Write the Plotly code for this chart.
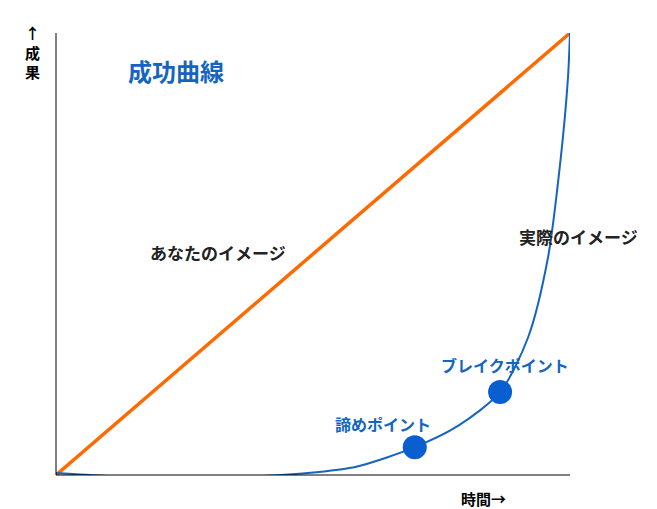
import plotly.graph_objects as go

img_x = [0, 100]
img_y = [0, 100]
real_x = [0, 10.1, 29.6, 49.0, 58.8, 69.8, 78.2, 86.4, 91.8, 95.7, 98.2, 99.6, 100]
real_y = [0.45, -0.2, -0.7, 0.45, 2.0, 6.3, 11.1, 18.8, 31.0, 49.1, 71.7, 89.8, 100]
pt_x = [69.8, 86.4]
pt_y = [6.3, 18.8]
pt_labels = ["諦めポイント", "ブレイクポイント"]

F = "Noto Sans CJK JP"
fig = go.Figure()
fig.add_trace(go.Scatter(x=img_x, y=img_y, mode="lines", line=dict(color="#FF6A00", width=3.5), cliponaxis=False))
fig.add_trace(go.Scatter(x=real_x, y=real_y, mode="lines", line=dict(color="#1565C0", width=2, shape="spline", smoothing=0.8), cliponaxis=False))
fig.add_trace(go.Scatter(x=pt_x, y=pt_y, mode="markers", marker=dict(color="#0A5FD0", size=24), cliponaxis=False))

fig.update_layout(
    width=657, height=509, margin=dict(l=48, r=95, t=25, b=42),
    plot_bgcolor="white", paper_bgcolor="white", showlegend=False,
    xaxis=dict(range=[0, 100], visible=False, fixedrange=True),
    yaxis=dict(range=[0, 100], visible=False, fixedrange=True),
    font=dict(family=F),
)
fig.add_shape(type="line", xref="paper", yref="paper", x0=0, x1=1, y0=0, y1=0, line=dict(color="black", width=1))
fig.add_shape(type="line", xref="paper", yref="paper", x0=0, x1=0, y0=0, y1=1.0, line=dict(color="black", width=1))

def ann(text, px, py, size, color):
    fig.add_annotation(text=f"<b>{text}</b>", x=(px - 48) / 514, y=(467 - py) / 442,
                       xref="paper", yref="paper", showarrow=False,
                       font=dict(size=size, color=color, family=F), xanchor="center", yanchor="middle")

ann("↑<br>成<br>果", 24, 44, 15, "black")
ann("時間→", 475, 490, 15, "black")
ann("成功曲線", 168, 62, 24, "#1565C0")
ann("あなたのイメージ", 210, 244, 17, "#222")
ann("実際のイメージ", 570, 228, 17, "#222")
ann(pt_labels[1], 497, 357, 16, "#1565C0")
ann(pt_labels[0], 375, 416, 16, "#1565C0")

fig.write_html("out.html")
